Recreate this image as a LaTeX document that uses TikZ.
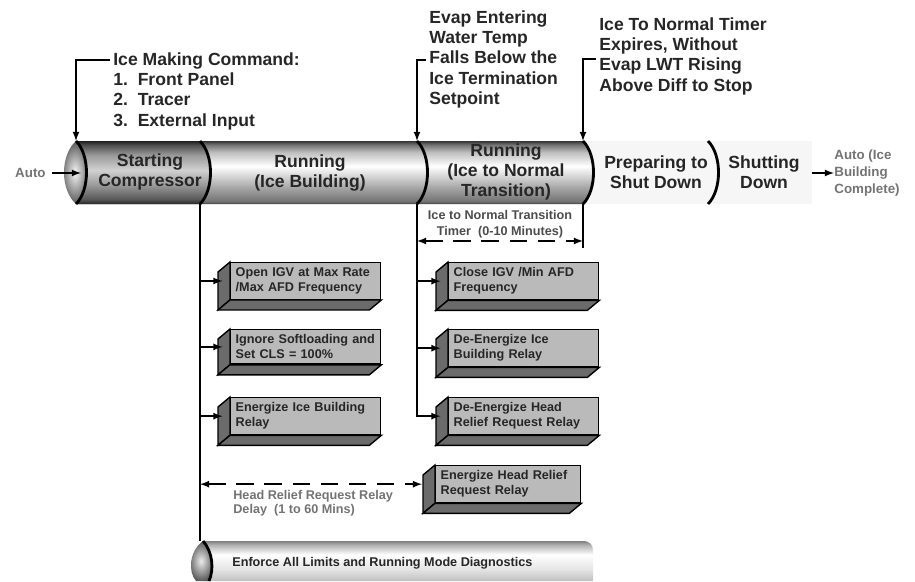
\documentclass[tikz,border=0pt]{standalone}
\usepackage{fontspec}
\setmainfont{Liberation Sans}
\usetikzlibrary{positioning}
\usetikzlibrary{calc}
\usetikzlibrary{arrows.meta}
\pgfdeclareverticalshading{tube}{100bp}{color(0bp)=(black!75); color(25bp)=(black!75); color(27bp)=(black!55); color(38bp)=(black!35); color(55bp)=(white); color(66bp)=(black!25); color(72bp)=(black!55); color(75bp)=(black!80); color(100bp)=(black!80)}
\pgfdeclareverticalshading{tubedark}{100bp}{color(0bp)=(black!85); color(25bp)=(black!85); color(29bp)=(black!65); color(40bp)=(black!40); color(52bp)=(black!18); color(64bp)=(black!40); color(72bp)=(black!70); color(75bp)=(black!88); color(100bp)=(black!88)}
\pgfdeclareverticalshading{tubelight}{100bp}{color(0bp)=(black!25); color(25bp)=(black!25); color(40bp)=(black!10); color(58bp)=(white); color(70bp)=(black!30); color(75bp)=(black!50); color(100bp)=(black!50)}
\tikzset{
    stage/.style = {align=center, inner sep=0pt, font=\bfseries\fontsize{10}{11.6}\selectfont, text=black!85},
    cue/.style = {align=left, anchor=north west, inner sep=0pt, font=\bfseries\fontsize{10}{11.6}\selectfont, text=black!85},
    smalltxt/.style = {align=center, inner sep=0pt, font=\bfseries\fontsize{7.2}{9}\selectfont, text=black!70},
    greytxt/.style = {align=left, inner sep=0pt, font=\bfseries\fontsize{7.6}{9.6}\selectfont, text=black!55},
    action/.style = {rectangle, draw=black, thick, fill=black!27, anchor=north west, minimum width=3cm, minimum height=0.68cm, text width=2.8cm, inner sep=0.1cm, align=left, font=\bfseries\fontsize{7.2}{8.6}\selectfont, text=black!85},
    face/.style = {draw=black, thick, fill=black!58},
    sepline/.style = {line width=1.6pt, black},
    edgen/.style = {-latex, thick},
    edgel/.style = {thick},
    edged/.style = {latex-latex, thick, dash pattern=on 10pt off 6pt},
}

\begin{document}
\begin{tikzpicture}[x=0.02cm, y=-0.02cm]
\useasboundingbox (0,0) rectangle (915,581);
%
% mode line
\fill[gray!7] (585,141) rectangle (812,204);
\shade[shading=tube] (76,141) -- (583,141) .. controls (597,155) and (597,190) .. (583,204) -- (76,204) -- cycle;
\shade[shading=tubedark] (76,141) -- (200,141) .. controls (214,155) and (214,190) .. (200,204) -- (76,204) -- cycle;
\shade[inner color=gray!8, outer color=black!65] (76,141) .. controls (60,155) and (60,190) .. (76,204) .. controls (90,190) and (90,155) .. (76,141);
\foreach \sx in {76,200,417,583,708}
  \draw[sepline] (\sx,141) .. controls ({\sx+14},155) and ({\sx+14},190) .. (\sx,204);
%
\node[stage] (sc) at (150,172) {Starting\\Compressor};
\node[stage] (rib) at (310,173) {Running\\(Ice Building)};
\node[stage] (rit) at (506,172) {Running\\(Ice to Normal\\Transition)};
\node[stage] (psd) at (656,172) {Preparing to\\Shut Down};
\node[stage] (sd) at (764,172) {Shutting\\Down};
\node[greytxt, anchor=east] (auto) at (46,173) {Auto};
\node[greytxt, anchor=west] (autoc) at (834,173) {Auto (Ice\\Building\\Complete)};
\coordinate (cap) at (81,173);
\coordinate (autoa) at (812,173);
\draw[edgen, shorten <=0.12cm] (auto) -- (cap);
\draw[edgen] (autoa) -- (autoc.west);
%
% events
\node[cue] (imc) at (113,52) {Ice Making Command:\\1.\ \ Front Panel\\2.\ \ Tracer\\3.\ \ External Input};
\node[cue] (eewt) at (429,10) {Evap Entering\\Water Temp\\Falls Below the\\Ice Termination\\Setpoint};
\node[cue] (itn) at (599,17) {Ice To Normal Timer\\Expires, Without\\Evap LWT Rising\\Above Diff to Stop};
\coordinate (imcb) at (110,60);
\coordinate (eewtb) at (426,60);
\coordinate (itnb) at (596,59);
\coordinate (s0) at (76,141);
\coordinate (s2) at (417,141);
\coordinate (s3) at (583,141);
\draw[edgen] (imcb) -| (s0);
\draw[edgen] (eewtb) -| (s2);
\draw[edgen] (itnb) -| (s3);
%
% actions
\node[action] (l1) at (230,262) {Open IGV at Max Rate\\/Max AFD Frequency};
\node[action] (l2) at (230,329) {Ignore Softloading and\\Set CLS = 100\%};
\node[action] (l3) at (230,397) {Energize Ice Building\\Relay};
\node[action] (r1) at (448,262) {Close IGV /Min AFD\\Frequency};
\node[action] (r2) at (448,329) {De-Energize Ice\\Building Relay};
\node[action] (r3) at (448,397) {De-Energize Head\\Relief Request Relay};
\node[action, minimum width=2.9cm, text width=2.7cm] (h) at (435,465) {Energize Head Relief\\Request Relay};
\foreach \b in {l1,l2,l3,r1,r2,r3,h}
{
  \draw[face] (\b.north west) -- ($(\b.north west)+(-12,10)$) -- ($(\b.south west)+(-12,10)$) -- (\b.south west) -- cycle;
  \draw[face] (\b.south west) -- ($(\b.south west)+(-12,10)$) -- ($(\b.south east)+(-12,10)$) -- (\b.south east) -- cycle;
}
%
% diagnostics
\shade[shading=tubelight] (203,541) -- (582,541) .. controls (591,541) and (593,545) .. (593,552) -- (593,581) -- (203,581) -- cycle;
\shade[inner color=gray!15, outer color=black!65] (203,541) .. controls (189,551) and (188,572) .. (196,581) -- (209,581) .. controls (214,570) and (213,552) .. (203,541) -- cycle;
\draw[sepline] (203,541) .. controls (213,552) and (214,570) .. (209,581);
\node[anchor=west, inner sep=0pt, font=\bfseries\fontsize{7.2}{8.6}\selectfont, text=black!85] (enf) at (232,563) {Enforce All Limits and Running Mode Diagnostics};
%
% branches
\coordinate (t1) at (200,204);
\coordinate (t1e) at (200,541);
\coordinate (t2) at (417,204);
\draw[edgel] (t1) -- (t1e);
\foreach \b in {l1,l2,l3}
  \draw[edgen, shorten >=0.15cm] (t1 |- \b.west) -- (\b.west);
\draw[edgen, shorten >=0.15cm] (t2) |- (r3.west);
\foreach \b in {r1,r2}
  \draw[edgen, shorten >=0.15cm] (t2 |- \b.west) -- (\b.west);
%
% timers
\coordinate (tm) at (583,204);
\coordinate (tme) at (583,248);
\coordinate (tml) at (417,241);
\coordinate (tmr) at (583,241);
\draw[edgel] (tm) -- (tme);
\draw[edged] (tml) -- (tmr);
\node[smalltxt] (tmt) at (500,224) {Ice to Normal Transition\\Timer\ \ (0-10 Minutes)};
\draw[edged, shorten >=0.26cm] (t1 |- h.west) -- (h.west);
\node[greytxt, anchor=north west, font=\bfseries\fontsize{7.2}{8.2}\selectfont] (hrd) at (233,490) {Head Relief Request Relay\\Delay\ \ (1 to 60 Mins)};

\end{tikzpicture}
\end{document}
